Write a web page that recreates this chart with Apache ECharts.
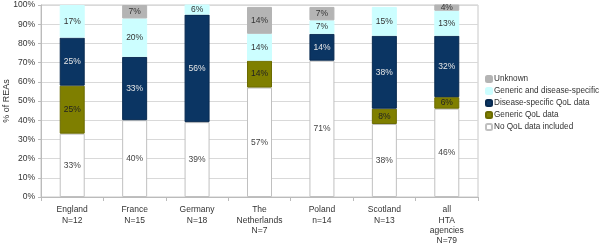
<!DOCTYPE html>
<html>
<head>
<meta charset="utf-8">
<script src="https://cdn.jsdelivr.net/npm/echarts@6/dist/echarts.min.js"></script>
<style>
  html, body { margin: 0; padding: 0; background: #fff; }
  #chart { width: 600px; height: 245px; }
</style>
</head>
<body>
<div id="chart"></div>
<script>
// categories (x axis)
var countries = ['England\nN=12', 'France\nN=15', 'Germany\nN=18', 'The\nNetherlands\nN=7', 'Poland\nn=14', 'Scotland\nN=13', 'all\nHTA\nagencies\nN=79'];

// % of REAs per category, bottom to top
var noQol = [33, 40, 39, 57, 71, 38, 46];
var genericQol = [25, 0, 0, 14, 0, 8, 6];
var diseaseQol = [25, 33, 56, 0, 14, 38, 32];
var bothQol = [17, 20, 6, 14, 7, 15, 13];
var unknown = [0, 7, 0, 14, 7, 0, 4];

var yTicks = { min: 0, max: 100, step: 10 };

var fs = 8.5;

function pctLabel(color) {
    return {
        show: true,
        position: 'inside',
        fontSize: fs,
        color: color,
        formatter: function (p) { return p.value + '%'; }
    };
}

function makeSeries(name, data, fill, border, textColor) {
    return {
        name: name,
        type: 'bar',
        stack: 'all',
        barWidth: 25,
        // empty segments are left out so no zero-height outline is drawn
        data: data.map(function (v) { return v === 0 ? null : v; }),
        itemStyle: { color: fill, borderColor: border, borderWidth: 1 },
        label: pctLabel(textColor),
        emphasis: { disabled: true }
    };
}

var option = {
    animation: false,
    textStyle: { fontFamily: 'Liberation Sans' },
    grid: {
        left: 41,
        right: 122,
        top: 5,
        bottom: 48,
        containLabel: false,
        outerBoundsMode: 'none',
        show: true,
        borderColor: '#c8c8c8',
        borderWidth: 1
    },
    legend: {
        orient: 'vertical',
        left: 480,
        top: 70,
        itemWidth: 6,
        itemHeight: 6,
        itemGap: 4,
        textStyle: { fontSize: 8.2, color: '#333', padding: [0, 0, 0, -3] },
        data: ['Unknown', 'Generic and disease-specific', 'Disease-specific QoL data', 'Generic QoL data', 'No QoL data included']
    },
    xAxis: {
        type: 'category',
        data: countries,
        axisLine: { lineStyle: { color: '#bbb' } },
        axisTick: { show: true, length: 4, lineStyle: { color: '#bbb' } },
        axisLabel: { fontSize: fs, lineHeight: 10.3, color: '#333', margin: 8, interval: 0 }
    },
    yAxis: {
        type: 'value',
        min: yTicks.min,
        max: yTicks.max,
        interval: yTicks.step,
        name: '% of REAs',
        nameLocation: 'middle',
        nameRotate: 90,
        nameGap: 30,
        nameMoveOverlap: false,
        nameTextStyle: { fontSize: 9, color: '#333' },
        axisLine: { show: true, lineStyle: { color: '#bbb' } },
        axisTick: { show: true, length: 3, lineStyle: { color: '#bbb' } },
        axisLabel: { fontSize: fs, color: '#333', margin: 6, formatter: '{value}%' },
        splitLine: { lineStyle: { color: '#d9d9d9' } }
    },
    series: [
        makeSeries('No QoL data included', noQol, '#ffffff', '#c0c0c0', '#444'),
        makeSeries('Generic QoL data', genericQol, '#7f7f00', '#6b6b00', '#222'),
        makeSeries('Disease-specific QoL data', diseaseQol, '#0b3563', '#082a50', '#e6e6e6'),
        makeSeries('Generic and disease-specific', bothQol, '#ccfeff', '#ccfeff', '#333'),
        makeSeries('Unknown', unknown, '#b4b4b4', '#b4b4b4', '#333')
    ]
};

var chart = echarts.init(document.getElementById('chart'));
chart.setOption(option);
</script>
</body>
</html>
